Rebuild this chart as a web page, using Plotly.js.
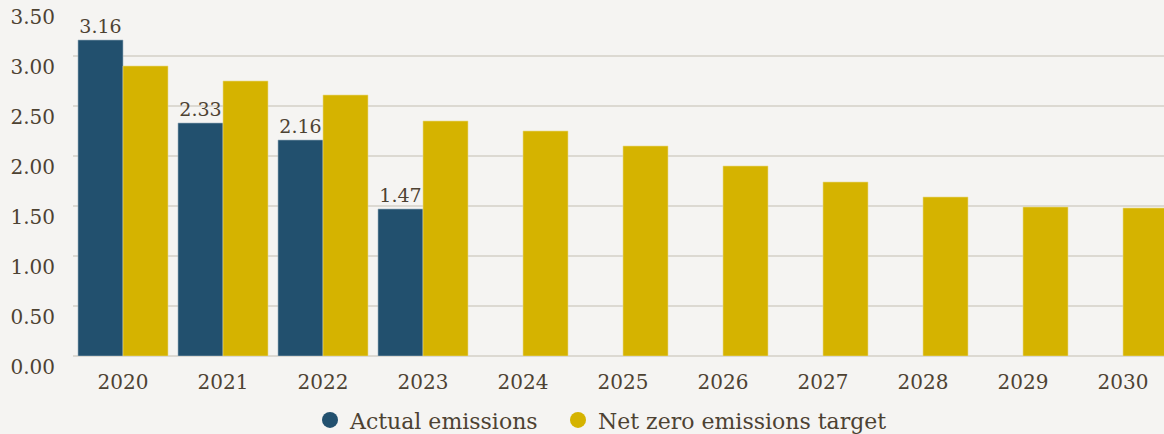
<!DOCTYPE html>
<html>
<head>
<meta charset="utf-8">
<script src="https://cdn.plot.ly/plotly-3.0.1.min.js"></script>
<style>
  html, body { margin: 0; padding: 0; background: #f5f4f2; }
  #chart { width: 1164px; height: 434px; }
</style>
</head>
<body>
<div id="chart"></div>
<script>
// Emissions by year: reported actuals vs. the net zero pathway
const years = ['2020', '2021', '2022', '2023', '2024', '2025', '2026', '2027', '2028', '2029', '2030'];
const actualEmissions = [3.16, 2.33, 2.16, 1.47, null, null, null, null, null, null, null];
const netZeroTarget = [2.90, 2.75, 2.61, 2.35, 2.25, 2.10, 1.90, 1.74, 1.59, 1.49, 1.48];
const yTickVals = [0, 0.5, 1, 1.5, 2, 2.5, 3, 3.5];
const yTickText = ['0.00', '0.50', '1.00', '1.50', '2.00', '2.50', '3.00', '3.50'];

const seriesNames = ['Actual emissions', 'Net zero emissions target'];
const blue = '#22506e';
const gold = '#d5b300';
const ink = '#4d4232';
const fontFamily = '"DejaVu Serif", "Liberation Serif", serif';

const traces = [
  {
    type: 'bar',
    name: seriesNames[0],
    x: years,
    y: actualEmissions,
    marker: { color: blue, line: { color: '#9fb3c0', width: 0.6 } },
    text: actualEmissions.map(v => v == null ? '' : v.toFixed(2)),
    textposition: 'outside',
    textfont: { family: fontFamily, size: 19, color: ink },
    cliponaxis: false,
    showlegend: false,
    hoverinfo: 'x+y'
  },
  {
    type: 'bar',
    name: seriesNames[1],
    x: years,
    y: netZeroTarget,
    marker: { color: gold, line: { color: '#eadb8c', width: 0.6 } },
    showlegend: false,
    hoverinfo: 'x+y'
  },
  // Round legend swatches for the two series, one legend box each
  {
    type: 'scatter', mode: 'markers', name: seriesNames[0],
    x: [null], y: [null], legend: 'legend',
    marker: { color: blue, size: 17, symbol: 'circle' }
  },
  {
    type: 'scatter', mode: 'markers', name: seriesNames[1],
    x: [null], y: [null], legend: 'legend2',
    marker: { color: gold, size: 17, symbol: 'circle' }
  }
];

const legendStyle = {
  orientation: 'h',
  xref: 'container',
  xanchor: 'left',
  y: 0.032,
  yref: 'container',
  yanchor: 'middle',
  font: { family: fontFamily, size: 22, color: ink },
  bgcolor: 'rgba(0,0,0,0)'
};

const layout = {
  width: 1164,
  height: 434,
  paper_bgcolor: '#f5f4f2',
  plot_bgcolor: '#f5f4f2',
  margin: { l: 73, r: 0, t: 6, b: 78 },
  barmode: 'group',
  bargap: 0.1,
  bargroupgap: 0,
  font: { family: fontFamily, color: ink, size: 20 },
  xaxis: {
    type: 'category',
    range: [-0.5, 10.41],
    automargin: false,
    showgrid: false,
    zeroline: false,
    showline: false,
    ticks: '',
    tickfont: { family: fontFamily, size: 20, color: ink },
    ticklabelstandoff: 12
  },
  yaxis: {
    range: [0, 3.5],
    automargin: false,
    tickvals: yTickVals,
    ticktext: yTickText,
    showgrid: true,
    gridcolor: '#dcd9d2',
    gridwidth: 2,
    zeroline: true,
    zerolinecolor: '#dcd9d2',
    zerolinewidth: 2,
    showline: false,
    ticks: '',
    tickfont: { family: fontFamily, size: 20, color: ink },
    ticklabelstandoff: 17,
    ticklabelshift: 11
  },
  legend: Object.assign({}, legendStyle, { x: 310 / 1164 }),
  legend2: Object.assign({}, legendStyle, { x: 558 / 1164 }),
  hovermode: 'closest'
};

Plotly.newPlot('chart', traces, layout, { displayModeBar: false });
</script>
</body>
</html>
